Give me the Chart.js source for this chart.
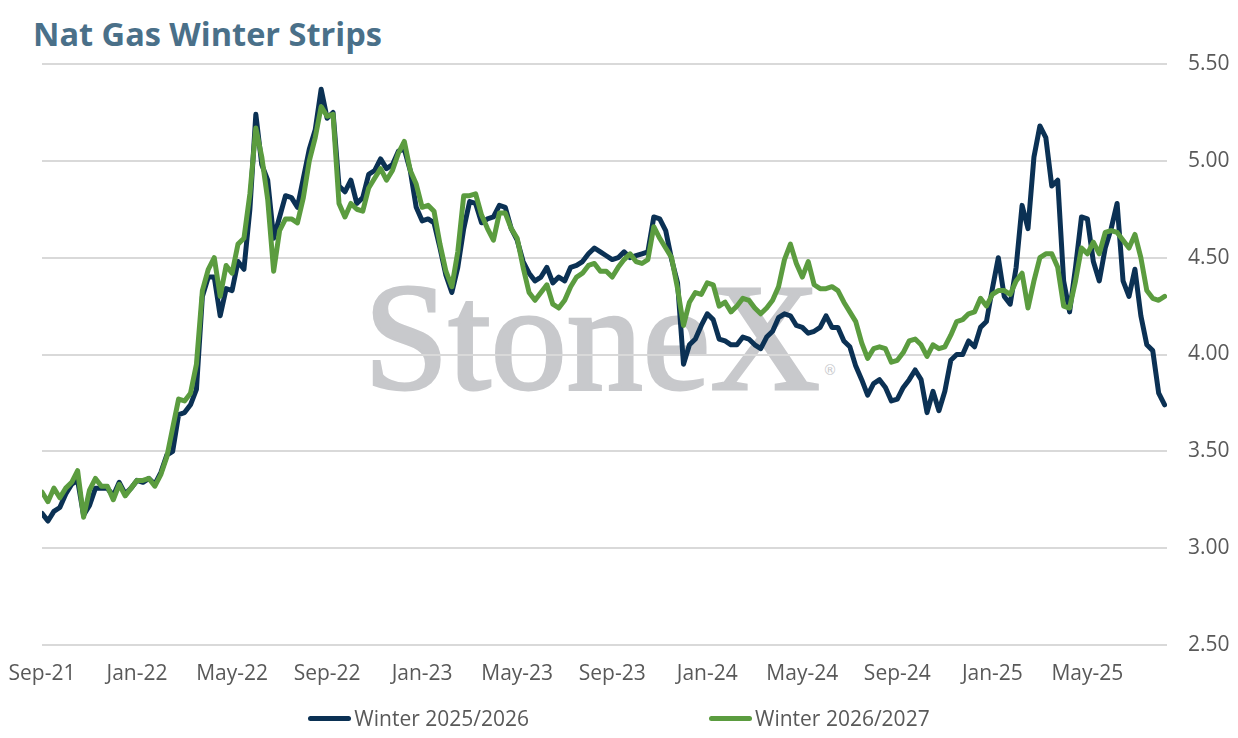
<!DOCTYPE html>
<html>
<head>
<meta charset="utf-8">
<script src="https://cdn.jsdelivr.net/npm/chart.js@4.4.1/dist/chart.umd.min.js"></script>
<style>
  html, body { margin: 0; padding: 0; background: #ffffff; }
  #wrap { position: relative; width: 1238px; height: 738px; overflow: hidden; background: #fff; }
  #title { position: absolute; left: 33px; top: 14px; font-family: "Open Sans", sans-serif; font-weight: 700; font-size: 32.5px; color: #4a7089; line-height: 40px; white-space: nowrap; }
  #mark { position: absolute; left: 364px; top: 262px; font-family: "Liberation Serif", serif; font-weight: 400; font-size: 152px; line-height: 152px; color: #c8c9cc; -webkit-text-stroke: 3px #c8c9cc; white-space: nowrap; z-index: 0; }
  #mark sup { font-family: "DejaVu Sans", sans-serif; font-weight: 400; font-size: 14px; -webkit-text-stroke: 0; vertical-align: top; position: relative; top: 32px; left: 3px; }
  #c { position: absolute; left: 0; top: 0; z-index: 1; }
  #legend { position: absolute; left: 0; width: 1238px; top: 704px; display: flex; justify-content: center; gap: 180px; font-family: "Open Sans", sans-serif; font-size: 21px; color: #595959; z-index: 2; }
  .item { display: flex; align-items: center; white-space: nowrap; }
  .sw { width: 43px; height: 5px; border-radius: 3px; margin-right: 3px; }
</style>
</head>
<body>
<div id="wrap">
  <div id="mark">StoneX<sup>®</sup></div>
  <canvas id="c" width="1238" height="738"></canvas>
  <div id="title">Nat Gas Winter Strips</div>
  <div id="legend"></div>
</div>
<script>
// ---- DATA ----
const seriesNames = ["Winter 2025/2026", "Winter 2026/2027"];
const xTickLabels = ["Sep-21","Jan-22","May-22","Sep-22","Jan-23","May-23","Sep-23","Jan-24","May-24","Sep-24","Jan-25","May-25"];
const monthsPerObs = 0.25; // roughly weekly observations starting Sep-21
const winter2526 = [
3.18,3.14,3.19,3.21,3.28,3.33,3.35,3.17,3.22,3.31,3.31,3.31,3.27,3.34,3.28,3.31,
3.35,3.34,3.36,3.33,3.39,3.48,3.50,3.69,3.70,3.74,3.82,4.30,4.40,4.40,4.20,4.34,
4.33,4.48,4.44,4.75,5.24,4.98,4.90,4.60,4.71,4.82,4.81,4.76,4.91,5.06,5.16,5.37,
5.22,5.25,4.87,4.84,4.90,4.78,4.81,4.93,4.95,5.01,4.96,4.98,5.05,5.06,4.95,4.76,
4.69,4.70,4.68,4.55,4.41,4.32,4.45,4.65,4.79,4.78,4.68,4.70,4.71,4.77,4.76,4.65,
4.59,4.48,4.42,4.38,4.40,4.45,4.37,4.40,4.38,4.45,4.46,4.48,4.52,4.55,4.53,4.51,
4.49,4.50,4.53,4.50,4.51,4.52,4.53,4.71,4.70,4.64,4.49,4.37,3.95,4.05,4.08,4.15,
4.21,4.18,4.08,4.07,4.05,4.05,4.09,4.08,4.05,4.03,4.09,4.12,4.19,4.21,4.20,4.15,
4.14,4.11,4.12,4.14,4.20,4.14,4.14,4.07,4.04,3.94,3.87,3.79,3.85,3.87,3.83,3.76,
3.77,3.83,3.87,3.92,3.87,3.70,3.81,3.71,3.81,3.97,4.00,4.00,4.07,4.04,4.14,4.17,
4.34,4.50,4.30,4.26,4.45,4.77,4.65,5.02,5.18,5.12,4.87,4.90,4.38,4.22,4.45,4.71,
4.70,4.48,4.38,4.55,4.65,4.78,4.38,4.30,4.44,4.20,4.05,4.02,3.80,3.74
];
const winter2627 = [
3.29,3.24,3.31,3.26,3.31,3.34,3.40,3.16,3.30,3.36,3.32,3.32,3.25,3.33,3.27,3.31,
3.35,3.35,3.36,3.32,3.38,3.47,3.62,3.77,3.76,3.80,3.95,4.33,4.44,4.50,4.30,4.46,
4.42,4.57,4.60,4.83,5.17,5.02,4.80,4.43,4.64,4.70,4.70,4.68,4.81,5.00,5.12,5.28,
5.23,5.24,4.78,4.71,4.78,4.75,4.74,4.86,4.91,4.96,4.90,4.95,5.04,5.10,4.95,4.88,
4.76,4.77,4.74,4.57,4.43,4.35,4.53,4.82,4.82,4.83,4.72,4.65,4.59,4.73,4.73,4.65,
4.60,4.45,4.32,4.28,4.32,4.36,4.26,4.24,4.28,4.35,4.40,4.42,4.46,4.47,4.43,4.43,
4.40,4.45,4.49,4.52,4.48,4.47,4.49,4.66,4.60,4.55,4.50,4.34,4.15,4.27,4.32,4.31,
4.37,4.36,4.25,4.27,4.22,4.25,4.29,4.28,4.24,4.21,4.24,4.28,4.35,4.49,4.57,4.47,
4.40,4.48,4.36,4.34,4.34,4.35,4.33,4.27,4.22,4.17,4.06,3.98,4.03,4.04,4.03,3.96,
3.97,4.01,4.07,4.08,4.05,3.99,4.05,4.03,4.04,4.10,4.17,4.18,4.21,4.22,4.29,4.25,
4.31,4.33,4.33,4.31,4.38,4.42,4.24,4.38,4.50,4.52,4.52,4.45,4.25,4.24,4.38,4.55,
4.52,4.58,4.52,4.63,4.64,4.63,4.59,4.55,4.62,4.50,4.33,4.29,4.28,4.30
];
const yTicks = [2.5, 3.0, 3.5, 4.0, 4.5, 5.0, 5.5];
const colors = ["#0b3154", "#5b9c3f"];

// ---- BUILD ----
const toPoints = arr => arr.map((v, i) => ({ x: i * monthsPerObs, y: v }));
const lastX = (winter2526.length - 1) * monthsPerObs;

const legendEl = document.getElementById('legend');
seriesNames.forEach((n, i) => {
  const it = document.createElement('div'); it.className = 'item';
  const sw = document.createElement('span'); sw.className = 'sw'; sw.style.background = colors[i];
  const tx = document.createElement('span'); tx.textContent = n;
  it.appendChild(sw); it.appendChild(tx); legendEl.appendChild(it);
});

new Chart(document.getElementById('c'), {
  type: 'line',
  data: {
    datasets: [
      { label: seriesNames[0], data: toPoints(winter2526), borderColor: colors[0], backgroundColor: colors[0], borderWidth: 5, pointRadius: 0, tension: 0, order: 1, borderJoinStyle: 'round', borderCapStyle: 'round' },
      { label: seriesNames[1], data: toPoints(winter2627), borderColor: colors[1], backgroundColor: colors[1], borderWidth: 5, pointRadius: 0, tension: 0, order: 0, borderJoinStyle: 'round', borderCapStyle: 'round' }
    ]
  },
  options: {
    responsive: false,
    animation: false,
    layout: { padding: { left: 42, right: 0, top: 64, bottom: 0 } },
    plugins: { legend: { display: false }, tooltip: { enabled: false }, title: { display: false } },
    scales: {
      x: {
        type: 'linear', min: 0, max: lastX + 0.1,
        grid: { display: false, drawTicks: false }, border: { display: false },
        afterFit: s => { s.height = 93; s.paddingLeft = 0; s.paddingRight = 0; },
        ticks: {
          stepSize: 4, includeBounds: false, autoSkip: false, maxRotation: 0, padding: 16,
          color: '#595959', font: { family: 'Open Sans', size: 21 },
          callback: v => xTickLabels[Math.round(v / 4)] || ''
        }
      },
      y: {
        position: 'right', min: yTicks[0], max: yTicks[yTicks.length - 1],
        grid: { color: '#d9d9d9', lineWidth: 2, drawTicks: false },
        border: { display: false },
        afterFit: s => { s.width = 71; },
        afterBuildTicks: s => { s.ticks = yTicks.map(v => ({ value: v })); },
        ticks: { padding: 21, color: '#595959', font: { family: 'Open Sans', size: 21 }, callback: v => Number(v).toFixed(2) }
      }
    }
  }
});
</script>
</body>
</html>
